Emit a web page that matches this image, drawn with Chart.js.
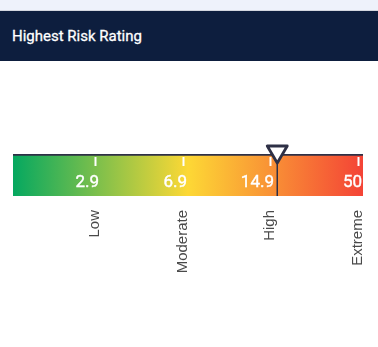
<!DOCTYPE html>
<html>
<head>
<meta charset="utf-8">
<script src="https://cdn.jsdelivr.net/npm/chart.js@4"></script>
<style>
  html, body { margin: 0; padding: 0; background: #fff; width: 378px; height: 347px; overflow: hidden; }
  .strip { height: 10px; background: #eef2fb; border-bottom: 1px solid #d3d7df; }
  .header { height: 50px; background: #0d1e3e; color: #fff; font: 400 15px Roboto, sans-serif; line-height: 50px; padding-left: 12px; -webkit-text-stroke: 0.3px #fff; }
  .wrap { position: absolute; left: 0; top: 62px; width: 378px; height: 285px; }
</style>
</head>
<body>
<div class="strip"></div>
<div class="header">Highest Risk Rating</div>
<div class="wrap"><canvas id="risk_chart"></canvas></div>
<script>
// risk tiers and the upper threshold of each tier
const tierNames = ["Low", "Moderate", "High", "Extreme"];
const tierThresholds = [2.9, 6.9, 14.9, 50];
// current highest rating
const riskValue = 17.8;
// scale runs in tier units (tier i ends at i + 1)
const scaleMin = 0.0625;
const scaleMax = 4.0625;

const gradientColors = ["#05a860", "#fdd835", "#f44336"];
const darkColor = "#2e3046";

// convert a rating value into tier units
function toTierUnits(value) {
  let lower = 0;
  for (let i = 0; i < tierThresholds.length; i++) {
    const upper = tierThresholds[i];
    if (value <= upper) {
      return i + (value - lower) / (upper - lower);
    }
    lower = upper;
  }
  return tierThresholds.length;
}

/**
 * Draws white tick marks, threshold numbers and the marker for the current rating.
 */
const gaugePlugin = {
  id: "gauge",
  afterDatasetsDraw(chart) {
    const ctx = chart.ctx;
    const xScale = chart.scales.x;
    const top = chart.chartArea.top;
    const bottom = chart.chartArea.bottom;

    ctx.save();
    ctx.strokeStyle = "#ffffff";
    ctx.fillStyle = "#ffffff";
    ctx.lineWidth = 2;
    ctx.font = "17px Roboto, sans-serif";
    ctx.textAlign = "right";
    ctx.textBaseline = "alphabetic";
    for (let i = 0; i < tierThresholds.length; i++) {
      const x = Math.round(xScale.getPixelForValue(i + 1)) + 0.5;
      ctx.beginPath();
      ctx.moveTo(x, top + 3);
      ctx.lineTo(x, top + 12);
      ctx.stroke();
      ctx.lineWidth = 0.4;
      ctx.fillText(String(tierThresholds[i]), x + 3.5, top + 33);
      ctx.strokeText(String(tierThresholds[i]), x + 3.5, top + 33);
      ctx.lineWidth = 2;
    }

    // marker
    const mx = xScale.getPixelForValue(toTierUnits(riskValue));
    ctx.strokeStyle = darkColor;
    ctx.lineWidth = 1.5;
    ctx.beginPath();
    ctx.moveTo(mx, top + 8);
    ctx.lineTo(mx, bottom);
    ctx.stroke();

    ctx.lineWidth = 2.8;
    ctx.lineJoin = "round";
    ctx.beginPath();
    ctx.moveTo(mx - 10, top - 8);
    ctx.lineTo(mx + 10, top - 8);
    ctx.lineTo(mx, top + 9);
    ctx.closePath();
    ctx.fillStyle = "#ffffff";
    ctx.fill();
    ctx.stroke();
    ctx.restore();
  }
};

new Chart("risk_chart", {
  type: "bar",
  data: {
    labels: ["Rating"],
    datasets: [{
      data: [[scaleMin, scaleMax]],
      backgroundColor: function (context) {
        const area = context.chart.chartArea;
        if (!area) return gradientColors[0];
        const g = context.chart.ctx.createLinearGradient(area.left, 0, area.right, 0);
        g.addColorStop(0, gradientColors[0]);
        g.addColorStop(0.5, gradientColors[1]);
        g.addColorStop(1, gradientColors[2]);
        return g;
      },
      borderColor: darkColor,
      borderWidth: { top: 2, left: 0, right: 0, bottom: 0 },
      borderSkipped: false,
      barPercentage: 1,
      categoryPercentage: 1
    }]
  },
  options: {
    indexAxis: "y",
    responsive: true,
    maintainAspectRatio: false,
    animation: false,
    layout: { padding: { top: 92, left: 13, right: 15, bottom: 71 } },
    plugins: {
      legend: { display: false },
      tooltip: { enabled: false },
      title: { display: false }
    },
    scales: {
      x: {
        type: "linear",
        min: scaleMin,
        max: scaleMax,
        grid: { display: false },
        border: { display: false },
        afterBuildTicks: function (scale) {
          scale.ticks = tierNames.map((name, i) => ({ value: i + 1 }));
        },
        afterFit: function (scale) {
          scale.height = 80;
          scale.paddingLeft = 0;
          scale.paddingRight = 0;
        },
        ticks: {
          autoSkip: false,
          minRotation: 90,
          maxRotation: 90,
          padding: 6,
          color: "#4a4a4a",
          font: { family: "Arial, 'Liberation Sans', sans-serif", size: 15 },
          callback: function (value) {
            return tierNames[Math.round(value) - 1];
          }
        }
      },
      y: {
        display: false
      }
    }
  },
  plugins: [gaugePlugin]
});
</script>
</body>
</html>
